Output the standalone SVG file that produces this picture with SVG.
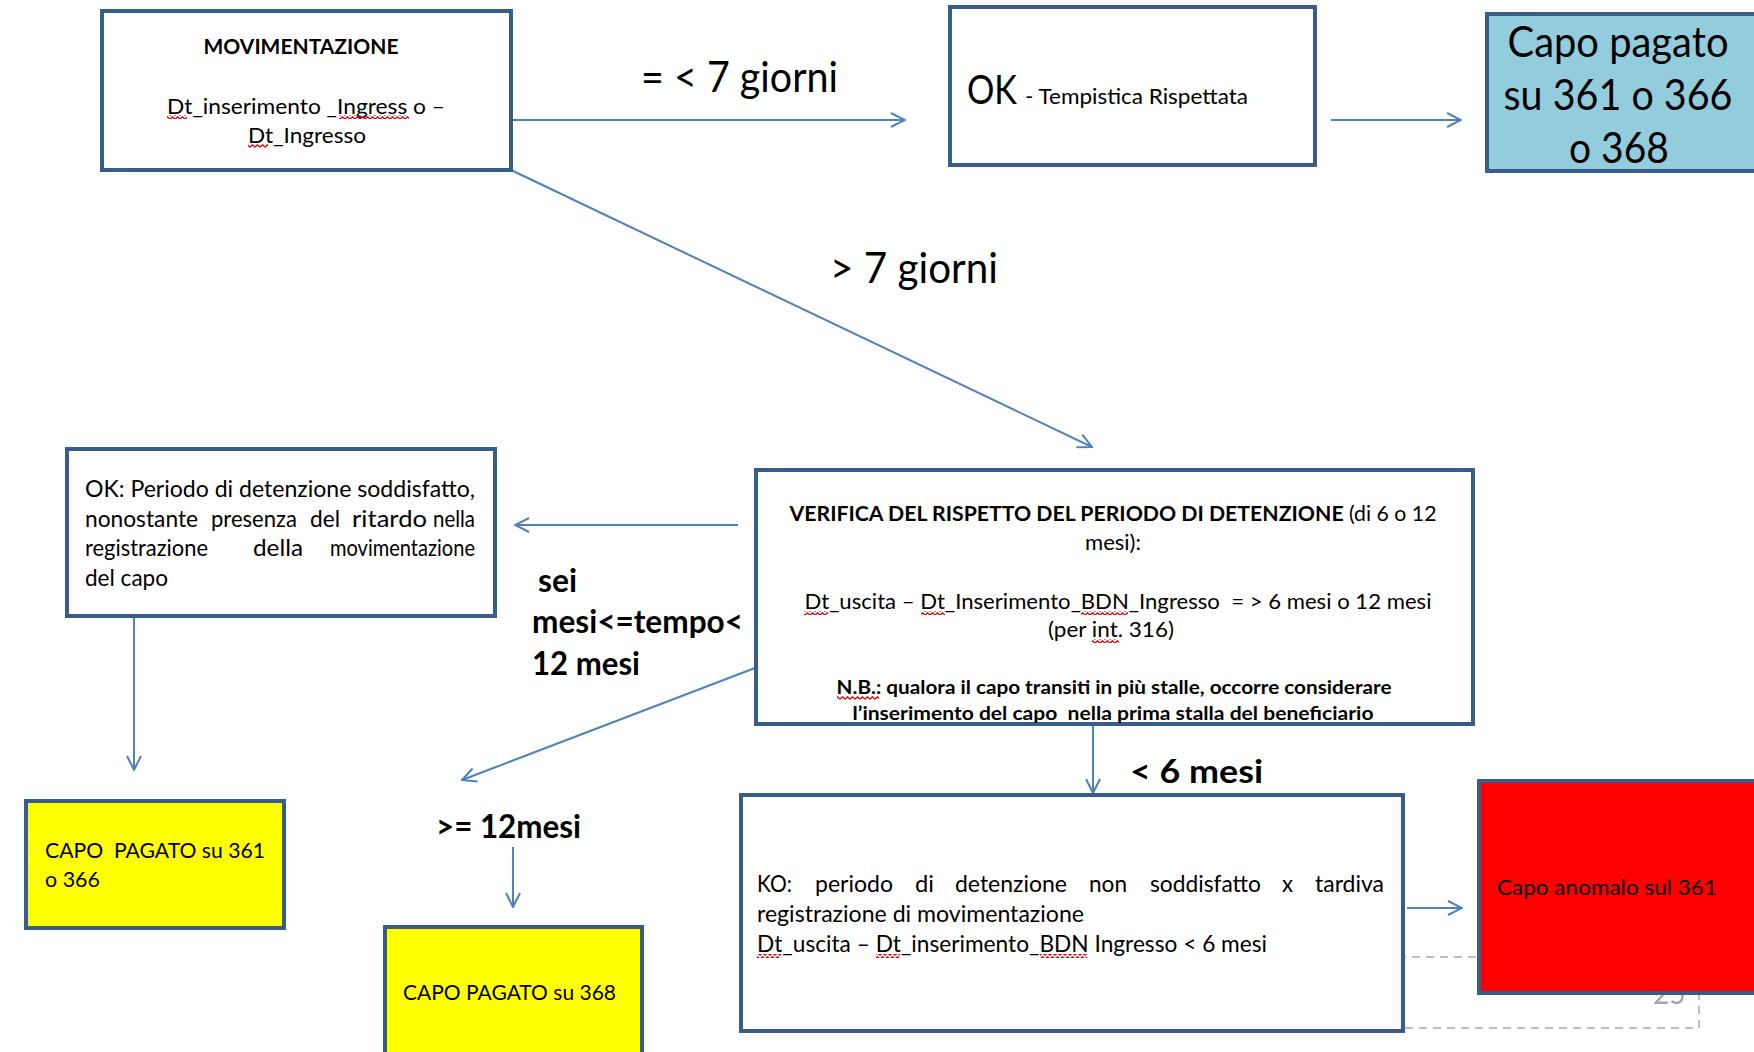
<svg xmlns="http://www.w3.org/2000/svg" width="1754" height="1052" viewBox="0 0 1754 1052">
<style>
.box{fill:#fff;stroke:#385D8A;stroke-width:4}
.yel{fill:#FFFF00}
.aqua{fill:#93CDDD}
.red{fill:#FF0000}
text{font-family:Lato,"Liberation Sans",sans-serif;fill:#000}
.b{font-weight:700}
.sq{fill:url(#wavy)}
.conn line{stroke:#4F81BD;stroke-width:2;marker-end:url(#arr)}
.dash{fill:none;stroke:#BFBFBF;stroke-width:2;stroke-dasharray:8 6}
</style>
<defs>
<marker id="arr" viewBox="0 0 16 16" refX="15" refY="8" markerWidth="16" markerHeight="16" markerUnits="userSpaceOnUse" orient="auto">
<path d="M1,1 L15,8 L1,15" fill="none" stroke="#4F81BD" stroke-width="2"/>
</marker>
<pattern id="wavy" width="5" height="4" patternUnits="userSpaceOnUse">
<path d="M0,3.2 L2.5,0.8 L5,3.2" fill="none" stroke="#E00000" stroke-width="1.2"/>
</pattern>
</defs>

<g id="slide-number">
<rect class="dash" x="1300" y="957" width="399" height="71"/>
<text x="1653" y="1004" font-size="28" style="fill:#A6A6A6">25</text>
</g>

<g id="connectors" class="conn">
<line x1="511" y1="120" x2="905" y2="120"/>
<line x1="1331" y1="120" x2="1461" y2="120"/>
<line x1="511" y1="170" x2="1092" y2="447"/>
<line x1="738" y1="525" x2="515" y2="525"/>
<line x1="134" y1="616" x2="134" y2="770"/>
<line x1="755" y1="668" x2="462" y2="780"/>
<line x1="513" y1="847" x2="513" y2="907"/>
<line x1="1093" y1="724" x2="1093" y2="793"/>
<line x1="1407" y1="908" x2="1462" y2="908"/>
</g>

<g id="labels">
<text x="641" y="92" font-size="42" textLength="197" lengthAdjust="spacingAndGlyphs">= &lt; 7 giorni</text>
<text x="830" y="283" font-size="42" textLength="168" lengthAdjust="spacingAndGlyphs">&gt; 7 giorni</text>
<text class="b" x="538" y="592" font-size="32" textLength="39" lengthAdjust="spacingAndGlyphs">sei</text>
<text class="b" x="532" y="633" font-size="32" textLength="211" lengthAdjust="spacingAndGlyphs">mesi&lt;=tempo&lt;</text>
<text class="b" x="532" y="675" font-size="32" textLength="108" lengthAdjust="spacingAndGlyphs">12 mesi</text>
<text class="b" x="436" y="838" font-size="32" textLength="145" lengthAdjust="spacingAndGlyphs">&gt;= 12mesi</text>
<text class="b" x="1130" y="783" font-size="32" textLength="133" lengthAdjust="spacingAndGlyphs">&lt; 6 mesi</text>
</g>

<g id="movimentazione">
<rect class="box" x="102" y="11" width="409" height="159"/>
<text class="b" x="301" y="54" font-size="21" text-anchor="middle" textLength="195" lengthAdjust="spacingAndGlyphs">MOVIMENTAZIONE</text>
<text x="306" y="114" font-size="21" text-anchor="middle" textLength="278" lengthAdjust="spacingAndGlyphs">Dt_inserimento _Ingress o –</text>
<text x="307" y="143" font-size="21" text-anchor="middle" textLength="118" lengthAdjust="spacingAndGlyphs">Dt_Ingresso</text>
<rect class="sq" x="167" y="115" width="20" height="4"/>
<rect class="sq" x="339" y="115" width="70" height="4"/>
<rect class="sq" x="248" y="144" width="20" height="4"/>
</g>

<g id="ok-tempistica">
<rect class="box" x="950" y="7" width="365" height="158"/>
<text x="967" y="104" font-size="40" textLength="50" lengthAdjust="spacingAndGlyphs">OK</text>
<text x="1025" y="104" font-size="21" textLength="223" lengthAdjust="spacingAndGlyphs">- Tempistica Rispettata</text>
</g>

<g id="capo-pagato">
<rect class="box aqua" x="1487" y="14" width="290" height="157"/>
<text x="1618" y="57" font-size="43" text-anchor="middle" textLength="221" lengthAdjust="spacingAndGlyphs">Capo pagato</text>
<text x="1618" y="110" font-size="43" text-anchor="middle" textLength="229" lengthAdjust="spacingAndGlyphs">su 361 o 366</text>
<text x="1619" y="163" font-size="43" text-anchor="middle" textLength="100" lengthAdjust="spacingAndGlyphs">o 368</text>
</g>

<g id="verifica">
<rect class="box" x="756" y="470" width="717" height="254"/>
<text x="1113" y="521" font-size="21" text-anchor="middle" textLength="647" lengthAdjust="spacingAndGlyphs"><tspan class="b">VERIFICA DEL RISPETTO DEL PERIODO DI DETENZIONE</tspan> (di 6 o 12</text>
<text x="1113" y="550" font-size="21" text-anchor="middle" textLength="56" lengthAdjust="spacingAndGlyphs">mesi):</text>
<text x="1118" y="609" font-size="21" text-anchor="middle" textLength="627" lengthAdjust="spacingAndGlyphs">Dt_uscita – Dt_Inserimento_BDN_Ingresso&#160; = &gt; 6 mesi o 12 mesi</text>
<text x="1111" y="637" font-size="21" text-anchor="middle" textLength="126" lengthAdjust="spacingAndGlyphs">(per int. 316)</text>
<text class="b" x="1114" y="694" font-size="19" text-anchor="middle" textLength="555" lengthAdjust="spacingAndGlyphs">N.B.: qualora il capo transiti in più stalle, occorre considerare</text>
<text class="b" x="1113" y="720" font-size="19" text-anchor="middle" textLength="521" lengthAdjust="spacingAndGlyphs">l’inserimento del capo&#160; nella prima stalla del beneficiario</text>
<rect class="sq" x="804" y="611" width="24" height="4"/>
<rect class="sq" x="921" y="611" width="24" height="4"/>
<rect class="sq" x="1081" y="611" width="47" height="4"/>
<rect class="sq" x="1092" y="639" width="27" height="4"/>
<rect class="sq" x="837" y="696" width="42" height="4"/>
</g>

<g id="ok-detenzione">
<rect class="box" x="67" y="449" width="428" height="167"/>
<text x="85" y="497" font-size="23" textLength="390" lengthAdjust="spacingAndGlyphs">OK: Periodo di detenzione soddisfatto,</text>
<text x="85" y="527" font-size="23" textLength="113" lengthAdjust="spacingAndGlyphs">nonostante</text>
<text x="211" y="527" font-size="23" textLength="86" lengthAdjust="spacingAndGlyphs">presenza</text>
<text x="310" y="527" font-size="23" textLength="30" lengthAdjust="spacingAndGlyphs">del</text>
<text x="352" y="527" font-size="23" textLength="75" lengthAdjust="spacingAndGlyphs">ritardo</text>
<text x="433" y="527" font-size="23" textLength="42" lengthAdjust="spacingAndGlyphs">nella</text>
<text x="85" y="556" font-size="23" textLength="123" lengthAdjust="spacingAndGlyphs">registrazione</text>
<text x="253" y="556" font-size="23" textLength="50" lengthAdjust="spacingAndGlyphs">della</text>
<text x="330" y="556" font-size="23" textLength="145" lengthAdjust="spacingAndGlyphs">movimentazione</text>
<text x="85" y="586" font-size="23" textLength="83" lengthAdjust="spacingAndGlyphs">del capo</text>
</g>

<g id="capo-361-366">
<rect class="box yel" x="26" y="801" width="258" height="127"/>
<text x="45" y="858" font-size="22" textLength="220" lengthAdjust="spacingAndGlyphs">CAPO&#160; PAGATO su 361</text>
<text x="45" y="887" font-size="22" textLength="55" lengthAdjust="spacingAndGlyphs">o 366</text>
</g>

<g id="capo-368">
<rect class="box yel" x="385" y="927" width="257" height="140"/>
<text x="403" y="1000" font-size="22" textLength="213" lengthAdjust="spacingAndGlyphs">CAPO PAGATO su 368</text>
</g>

<g id="ko">
<rect class="box" x="741" y="795" width="662" height="236"/>
<text x="757" y="892" font-size="23" textLength="35" lengthAdjust="spacingAndGlyphs">KO:</text>
<text x="815" y="892" font-size="23" textLength="78" lengthAdjust="spacingAndGlyphs">periodo</text>
<text x="915" y="892" font-size="23" textLength="19" lengthAdjust="spacingAndGlyphs">di</text>
<text x="955" y="892" font-size="23" textLength="112" lengthAdjust="spacingAndGlyphs">detenzione</text>
<text x="1089" y="892" font-size="23" textLength="38" lengthAdjust="spacingAndGlyphs">non</text>
<text x="1150" y="892" font-size="23" textLength="111" lengthAdjust="spacingAndGlyphs">soddisfatto</text>
<text x="1282" y="892" font-size="23" textLength="11" lengthAdjust="spacingAndGlyphs">x</text>
<text x="1315" y="892" font-size="23" textLength="69" lengthAdjust="spacingAndGlyphs">tardiva</text>
<text x="757" y="922" font-size="23" textLength="327" lengthAdjust="spacingAndGlyphs">registrazione di movimentazione</text>
<text x="757" y="952" font-size="23" textLength="510" lengthAdjust="spacingAndGlyphs">Dt_uscita – Dt_inserimento_BDN Ingresso &lt; 6 mesi</text>
<rect class="sq" x="757" y="954" width="24" height="4"/>
<rect class="sq" x="876" y="954" width="24" height="4"/>
<rect class="sq" x="1040" y="954" width="47" height="4"/>
</g>

<g id="capo-anomalo">
<rect class="box red" x="1479" y="781" width="290" height="212"/>
<text x="1497" y="895" font-size="22" textLength="220" lengthAdjust="spacingAndGlyphs">Capo anomalo sul 361</text>
</g>
</svg>
